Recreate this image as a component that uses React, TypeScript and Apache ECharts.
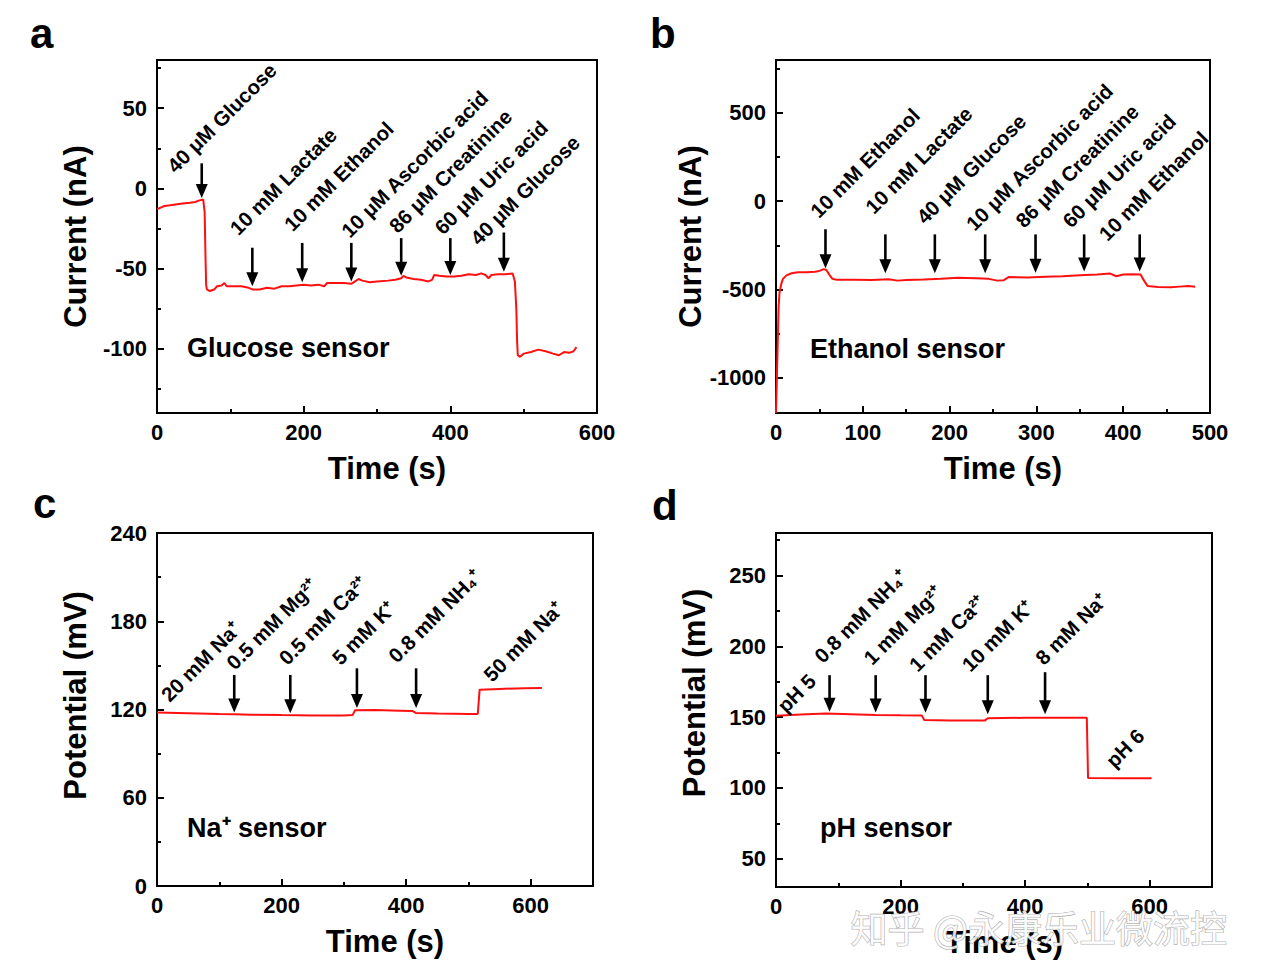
import React, { useEffect, useRef } from 'react';
import * as echarts from 'echarts';

const FONT = '"Liberation Sans", Arial, Helvetica, sans-serif';

// ---------- Panel a: Glucose sensor ----------
const glucoseCurve: [number, number][] = [
  [0, -13], [5, -12], [10, -11], [18, -10.5], [25, -10], [35, -9.5], [45, -9], [52, -8.5], [58, -7.5], [63, -7],
  [65, -15], [66, -40], [67, -60], [68, -63], [72, -64], [78, -63], [82, -61], [88, -60.5], [92, -59], [95, -61],
  [105, -61], [115, -61], [125, -62], [130, -63], [140, -63], [150, -62], [160, -62.5], [170, -61], [180, -61],
  [190, -60.5], [200, -60], [210, -60.5], [220, -60], [228, -61], [232, -59], [245, -59], [255, -59], [265, -59.5],
  [270, -58], [275, -56.5], [280, -57.5], [290, -58.5], [300, -58], [315, -57.5], [325, -57], [333, -56], [336, -54.5],
  [340, -55.5], [350, -56.5], [360, -57], [370, -58], [375, -57], [378, -54], [385, -54.5], [395, -55], [405, -55],
  [415, -54.5], [425, -53.5], [435, -54], [442, -53], [448, -54], [452, -56], [456, -54], [465, -53.5], [475, -53.5],
  [485, -53], [488, -58], [490, -75], [491, -95], [492, -104], [495, -105], [500, -103], [510, -102], [520, -100.5],
  [530, -101.5], [540, -103], [548, -104], [555, -102], [562, -102.5], [568, -101.5], [572, -99],
];
const glucoseXMajor = [0, 200, 400, 600];
const glucoseXMinor = [100, 300, 500];
const glucoseYMajor = [-100, -50, 0, 50];
const glucoseYMinor = [-125, -75, -25, 25, 75];
const glucoseAnnotations = [
  { text: '40 μM Glucose', x: 61, top: 15.6, tip: -6, lx: 24.5, ly: 9.4 },
  { text: '10 mM Lactate', x: 130, top: -37, tip: -61, lx: 110, ly: -29.4 },
  { text: '10 mM Ethanol', x: 198, top: -34, tip: -58.5, lx: 184, ly: -27 },
  { text: '10 μM Ascorbic acid', x: 265, top: -34, tip: -58, lx: 262, ly: -31 },
  { text: '86 μM Creatinine', x: 333, top: -31, tip: -54.5, lx: 327, ly: -28 },
  { text: '60 μM Uric acid', x: 400, top: -31, tip: -54, lx: 389, ly: -29 },
  { text: '40 μM Glucose', x: 473, top: -27.5, tip: -52, lx: 438, ly: -35.6 },
];

// ---------- Panel b: Ethanol sensor ----------
const ethanolCurve: [number, number][] = [
  [0, -1200], [1, -1000], [2, -800], [3, -600], [4, -520], [6, -470], [8, -440], [12, -420], [18, -408], [25, -402],
  [35, -403], [45, -400], [50, -395], [55, -385], [58, -390], [62, -420], [65, -440], [70, -445], [90, -445],
  [110, -446], [130, -442], [140, -450], [150, -446], [170, -444], [190, -440], [210, -434], [230, -436], [245, -440],
  [255, -450], [262, -448], [268, -430], [290, -432], [310, -428], [330, -425], [350, -420], [370, -415], [385, -410],
  [392, -425], [400, -415], [410, -414], [420, -416], [424, -450], [428, -480], [440, -486], [455, -488], [465, -484],
  [475, -480], [483, -485],
];
const ethanolXMajor = [0, 100, 200, 300, 400, 500];
const ethanolXMinor = [50, 150, 250, 350, 450];
const ethanolYMajor = [-1000, -500, 0, 500];
const ethanolYMinor = [-750, -250, 250, 750];
const ethanolAnnotations = [
  { text: '10 mM Ethanol', x: 57, top: -159, tip: -380, lx: 48.6, ly: -97 },
  { text: '10 mM Lactate', x: 126, top: -188, tip: -408, lx: 112, ly: -74 },
  { text: '40 μM Glucose', x: 183, top: -188, tip: -408, lx: 171, ly: -131 },
  { text: '10 μM Ascorbic acid', x: 241, top: -188, tip: -408, lx: 228, ly: -170 },
  { text: '86 μM Creatinine', x: 299, top: -188, tip: -405, lx: 285, ly: -153 },
  { text: '60 μM Uric acid', x: 355, top: -188, tip: -398, lx: 339, ly: -153 },
  { text: '10 mM Ethanol', x: 419, top: -188, tip: -398, lx: 381, ly: -227 },
];

// ---------- Panel c: Na+ sensor ----------
const sodiumCurve: [number, number][] = [
  [0, 118], [50, 117.5], [100, 117], [125, 116.8], [150, 116.5], [200, 116.2], [250, 116], [300, 116], [314, 116.2],
  [318, 119.5], [350, 119.6], [390, 119.2], [410, 119], [416, 117.6], [450, 117.2], [500, 117], [515, 117],
  [518, 133.5], [550, 134], [590, 134.5], [618, 134.6],
];
const sodiumXMajor = [0, 200, 400, 600];
const sodiumXMinor = [100, 300, 500];
const sodiumYMajor = [0, 60, 120, 180, 240];
const sodiumYMinor = [30, 90, 150, 210];
const sodiumAnnotations = [
  { text: '20 mM Na⁺', x: null, top: null, tip: null, lx: 19, ly: 125 },
  { text: '0.5 mM Mg²⁺', x: 124, top: 143.5, tip: 118, lx: 124, ly: 146.8 },
  { text: '0.5 mM Ca²⁺', x: 214, top: 143.5, tip: 117.5, lx: 208, ly: 150 },
  { text: '5 mM K⁺', x: 321, top: 148, tip: 121, lx: 293.5, ly: 150 },
  { text: '0.8 mM NH₄⁺', x: 416, top: 148, tip: 121, lx: 384, ly: 151.6 },
  { text: '50 mM Na⁺', x: null, top: null, tip: null, lx: 537, ly: 138.7 },
];

// ---------- Panel d: pH sensor ----------
const phCurve: [number, number][] = [
  [0, 151], [40, 151.8], [80, 152.5], [120, 152], [160, 151.5], [200, 151.3], [234, 151.2], [238, 148], [280, 147.6],
  [335, 147.5], [340, 149.2], [400, 149.5], [450, 149.6], [499, 149.6], [501, 107], [550, 106.8], [603, 106.8],
];
const phXMajor = [0, 200, 400, 600];
const phXMinor = [100, 300, 500];
const phYMajor = [50, 100, 150, 200, 250];
const phYMinor = [75, 125, 175, 225, 275];
const phAnnotations = [
  { text: 'pH 5', x: null, top: null, tip: null, lx: 14.5, ly: 152.8 },
  { text: '0.8 mM NH₄⁺', x: 86, top: 179.6, tip: 153.7, lx: 74, ly: 188 },
  { text: '1 mM Mg²⁺', x: 160, top: 179.6, tip: 153.2, lx: 153, ly: 186.6 },
  { text: '1 mM Ca²⁺', x: 240, top: 179.6, tip: 153, lx: 226, ly: 181.7 },
  { text: '10 mM K⁺', x: 340, top: 179.6, tip: 152, lx: 311, ly: 181.7 },
  { text: '8 mM Na⁺', x: 432, top: 181.7, tip: 152, lx: 429, ly: 186.6 },
  { text: 'pH 6', x: null, top: null, tip: null, lx: 542, ly: 114 },
];

type Ann = { text: string; x: number | null; top: number | null; tip: number | null; lx: number; ly: number };

const panels = [
  {
    grid: { left: 157, top: 60, width: 440, height: 353 },
    x: { min: 0, max: 600, major: glucoseXMajor, minor: glucoseXMinor },
    y: { min: -140, max: 80, major: glucoseYMajor, minor: glucoseYMinor, name: 'Current (nA)', pad: 0 },
    curve: glucoseCurve, ann: glucoseAnnotations,
  },
  {
    grid: { left: 776, top: 60, width: 434, height: 353 },
    x: { min: 0, max: 500, major: ethanolXMajor, minor: ethanolXMinor },
    y: { min: -1200, max: 800, major: ethanolYMajor, minor: ethanolYMinor, name: 'Current (nA)', pad: 0 },
    curve: ethanolCurve, ann: ethanolAnnotations,
  },
  {
    grid: { left: 157, top: 533, width: 436, height: 353 },
    x: { min: 0, max: 700, major: sodiumXMajor, minor: sodiumXMinor },
    y: { min: 0, max: 240, major: sodiumYMajor, minor: sodiumYMinor, name: 'Potential (mV)', pad: 28 },
    curve: sodiumCurve, ann: sodiumAnnotations,
  },
  {
    grid: { left: 776, top: 533, width: 436, height: 354 },
    x: { min: 0, max: 700, major: phXMajor, minor: phXMinor },
    y: { min: 30, max: 280, major: phYMajor, minor: phYMinor, name: 'Potential (mV)', pad: 34 },
    curve: phCurve, ann: phAnnotations,
  },
];

const tickStyle = { color: '#000', width: 2 };

function makeRender(ann: Ann[]) {
  return (params: any, api: any) => {
    const a = ann[params.dataIndex];
    const children: any[] = [];
    if (a.x !== null && a.top !== null && a.tip !== null) {
      const p0 = api.coord([a.x, a.top]);
      const p1 = api.coord([a.x, a.tip]);
      const head = 14;
      const hw = 6;
      children.push({
        type: 'line',
        shape: { x1: p0[0], y1: p0[1], x2: p1[0], y2: p1[1] - head + 2 },
        style: { stroke: '#000', lineWidth: 2.6 },
      });
      children.push({
        type: 'polygon',
        shape: { points: [[p1[0] - hw, p1[1] - head], [p1[0] + hw, p1[1] - head], [p1[0], p1[1]]] },
        style: { fill: '#000' },
      });
    }
    const pl = api.coord([a.lx, a.ly]);
    children.push({
      type: 'text',
      x: pl[0] + 3,
      y: pl[1] + 3,
      rotation: Math.PI / 4,
      style: {
        text: a.text,
        fill: '#000',
        fontFamily: FONT,
        fontWeight: 'bold',
        fontSize: 20.5,
        align: 'left',
        verticalAlign: 'bottom',
      },
    });
    return { type: 'group', children };
  };
}

function buildOption() {
  const grid: any[] = [];
  const xAxis: any[] = [];
  const yAxis: any[] = [];
  const series: any[] = [];
  panels.forEach((p, i) => {
    grid.push({ ...p.grid, show: true, borderColor: '#000', borderWidth: 2, backgroundColor: 'transparent' });
    xAxis.push({
      type: 'value', gridIndex: i, min: p.x.min, max: p.x.max, position: 'bottom',
      name: 'Time (s)', nameLocation: 'middle', nameGap: 40,
      nameTextStyle: { fontFamily: FONT, fontWeight: 'bold', fontSize: 31, color: '#000', padding: [0, 0, 0, 20] },
      axisLine: { show: true, onZero: false, lineStyle: { color: '#000', width: 2 } },
      axisTick: { show: true, inside: true, length: 7, customValues: p.x.major, lineStyle: tickStyle },
      axisLabel: {
        customValues: p.x.major, color: '#000', fontFamily: FONT, fontWeight: 'bold', fontSize: 22, margin: 8,
        formatter: (v: number) => String(v),
      },
      splitLine: { show: false },
    });
    xAxis.push({
      type: 'value', gridIndex: i, min: p.x.min, max: p.x.max, position: 'bottom',
      axisLine: { show: false, onZero: false },
      axisTick: { show: true, inside: true, length: 4, customValues: p.x.minor, lineStyle: tickStyle },
      axisLabel: { show: false },
      splitLine: { show: false },
    });
    yAxis.push({
      type: 'value', gridIndex: i, min: p.y.min, max: p.y.max, position: 'left',
      name: p.y.name, nameLocation: 'middle', nameGap: 66,
      nameTextStyle: { fontFamily: FONT, fontWeight: 'bold', fontSize: 31, color: '#000', padding: [0, 0, 0, p.y.pad] },
      axisLine: { show: true, onZero: false, lineStyle: { color: '#000', width: 2 } },
      axisTick: { show: true, inside: true, length: 7, customValues: p.y.major, lineStyle: tickStyle },
      axisLabel: {
        customValues: p.y.major, color: '#000', fontFamily: FONT, fontWeight: 'bold', fontSize: 22, margin: 10,
        formatter: (v: number) => String(v),
      },
      splitLine: { show: false },
    });
    yAxis.push({
      type: 'value', gridIndex: i, min: p.y.min, max: p.y.max, position: 'left',
      axisLine: { show: false, onZero: false },
      axisTick: { show: true, inside: true, length: 4, customValues: p.y.minor, lineStyle: tickStyle },
      axisLabel: { show: false },
      splitLine: { show: false },
    });
    series.push({
      type: 'line', xAxisIndex: 2 * i, yAxisIndex: 2 * i, data: p.curve,
      showSymbol: false, symbol: 'none', smooth: false, silent: true,
      lineStyle: { color: '#ff1010', width: 2 }, z: 3,
    });
    series.push({
      type: 'custom', xAxisIndex: 2 * i, yAxisIndex: 2 * i,
      data: (p.ann as Ann[]).map((a) => [a.lx, a.ly]),
      encode: { x: 0, y: 1 },
      renderItem: makeRender(p.ann as Ann[]),
      clip: false, silent: true, z: 4,
    });
  });

  const txt = (text: string, left: number, y: number, size: number, extra: any = {}) => ({
    type: 'text', left, top: y - size / 2,
    style: { text, fill: '#000', fontFamily: FONT, fontWeight: 'bold', fontSize: size, ...extra },
    silent: true,
  });

  const graphic = [
    txt('a', 30, 33, 42),
    txt('b', 650, 33, 42),
    txt('c', 33, 503, 42),
    txt('d', 652, 505, 42),
    txt('Glucose sensor', 187, 348, 27),
    txt('Ethanol sensor', 810, 349, 27),
    txt('Na⁺ sensor', 187, 828, 27),
    txt('pH sensor', 820, 828, 27),
    {
      type: 'text', left: 850, top: 908, z: 100,
      style: {
        text: '知乎 @永康乐业微流控', fontFamily: '"Noto Sans CJK SC", sans-serif', fontSize: 37,
        fill: 'rgba(255,255,255,0.88)', stroke: 'rgba(140,140,140,0.7)', lineWidth: 1.2,
      },
      silent: true,
    },
  ];

  return { animation: false, backgroundColor: '#fff', grid, xAxis, yAxis, series, graphic };
}

export default function App() {
  const ref = useRef<HTMLDivElement>(null);
  useEffect(() => {
    if (!ref.current) return;
    const chart = echarts.init(ref.current, undefined, { renderer: 'svg' });
    chart.setOption(buildOption() as any);
    return () => chart.dispose();
  }, []);
  return <div ref={ref} style={{ position: 'absolute', left: 0, top: 0, width: 1267, height: 979 }} />;
}
